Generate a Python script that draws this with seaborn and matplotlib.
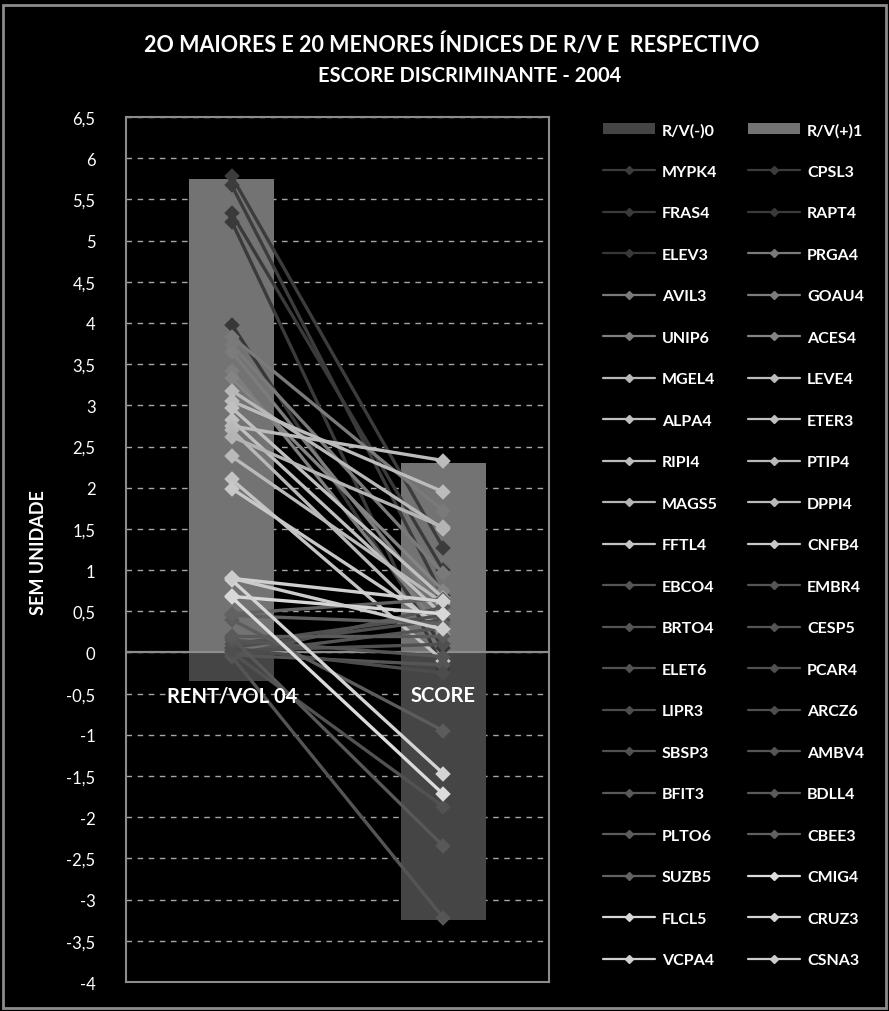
import matplotlib
matplotlib.use("Agg")
import matplotlib.pyplot as plt
from matplotlib.lines import Line2D
from matplotlib.patches import Patch, Rectangle
import numpy as np
import pandas as pd
import seaborn as sns

# Categories on the x axis
categories = ["RENT/VOL 04", "SCORE"]

# Column series (Excel-style overlapping positive/negative bars)
bar_neg = [-0.35, -3.25]   # R/V(-)0
bar_pos = [5.75, 2.30]     # R/V(+)1

# 20 largest and 20 smallest R/V indices, in series order
tickers = [
    "MYPK4", "CPSL3", "FRAS4", "RAPT4", "ELEV3",
    "PRGA4", "AVIL3", "GOAU4", "UNIP6", "ACES4",
    "MGEL4", "LEVE4", "ALPA4", "ETER3", "RIPI4",
    "PTIP4", "MAGS5", "DPPI4", "FFTL4", "CNFB4",
    "EBCO4", "EMBR4", "BRTO4", "CESP5", "ELET6",
    "PCAR4", "LIPR3", "ARCZ6", "SBSP3", "AMBV4",
    "BFIT3", "BDLL4", "PLTO6", "CBEE3", "SUZB5",
    "CMIG4", "FLCL5", "CRUZ3", "VCPA4", "CSNA3",
]
rent_vol = [
    5.78, 5.67, 5.33, 5.23, 3.98,
    3.83, 3.73, 3.65, 3.42, 3.33,
    3.18, 3.05, 2.97, 2.82, 2.75,
    2.70, 2.62, 2.38, 2.10, 1.99,
    -0.05, -0.04, -0.03, -0.02, 0.00,
    0.02, 0.05, 0.06, 0.10, 0.15,
    0.18, 0.20, 0.40, 0.45, 0.47,
    0.67, 0.68, 0.88, 0.90, 0.90,
]
score = [
    1.27, 0.68, 1.00, -0.20, 0.05,
    1.72, 0.96, 0.50, 0.25, 0.75,
    1.50, 1.95, 0.66, 0.45, 2.33,
    0.21, 1.52, 0.60, -0.10, 0.30,
    -3.22, 0.55, -0.15, 0.30, -1.87,
    0.10, -0.25, 0.40, 0.45, -0.05,
    -2.35, 0.20, -0.95, 0.35, 0.65,
    -1.72, 0.47, -1.47, 0.62, 0.28,
]
line_colors = [
    "#3c3c3c", "#3c3c3c", "#3a3a3a", "#3a3a3a", "#383838",
    "#7a7a7a", "#7a7a7a", "#7c7c7c", "#7e7e7e", "#848484",
    "#b8b8b8", "#bcbcbc", "#c0c0c0", "#c0c0c0", "#bcbcbc",
    "#b8b8b8", "#b4b4b4", "#bababa", "#c4c4c4", "#c8c8c8",
    "#555555", "#555555", "#555555", "#555555", "#525252",
    "#505050", "#4c4c4c", "#4e4e4e", "#505050", "#555555",
    "#585858", "#5a5a5a", "#5c5c5c", "#606060", "#626262",
    "#dcdcdc", "#d8d8d8", "#d4d4d4", "#d0d0d0", "#cccccc",
]

title_lines = ["2O MAIORES E 20 MENORES ÍNDICES DE R/V E  RESPECTIVO",
               "ESCORE DISCRIMINANTE - 2004"]
y_label = "SEM UNIDADE"
y_ticks = [-4, -3.5, -3, -2.5, -2, -1.5, -1, -0.5, 0, 0.5, 1, 1.5,
           2, 2.5, 3, 3.5, 4, 4.5, 5, 5.5, 6, 6.5]

sns.set_theme(style="dark")
plt.rcParams["font.family"] = ["Lato", "DejaVu Sans"]

W, H = 889, 1012
fig = plt.figure(figsize=(W / 100, H / 100), dpi=100, facecolor="black")
fig.patches.append(Rectangle((3 / W, 3 / H), 883 / W, 1003 / H, transform=fig.transFigure,
                             fill=False, edgecolor="#8c8c8c", lw=2))

ax_l, ax_r, ax_t, ax_b = 126, 549, 118, 983
ax = fig.add_axes([ax_l / W, 1 - ax_b / H, (ax_r - ax_l) / W, (ax_b - ax_t) / H])
ax.set_facecolor("black")

bars = pd.DataFrame({"cat": categories, "neg": bar_neg, "pos": bar_pos})
sns.barplot(data=bars, x="cat", y="pos", color="#737373", width=0.4, saturation=1,
            errorbar=None, ax=ax, zorder=1, edgecolor="none", linewidth=0)
sns.barplot(data=bars, x="cat", y="neg", color="#454545", width=0.4, saturation=1,
            errorbar=None, ax=ax, zorder=1, edgecolor="none", linewidth=0)

ax.axhline(0, color="#8c8c8c", lw=1.6, zorder=2)

long = pd.DataFrame({
    "ticker": np.repeat(tickers, 2),
    "cat": categories * len(tickers),
    "value": np.column_stack([rent_vol, score]).ravel(),
})
sns.pointplot(data=long, x="cat", y="value", hue="ticker", hue_order=tickers,
              order=categories, palette=line_colors, markers="D", linestyles="-",
              errorbar=None, dodge=False, legend=False, ax=ax,
              markersize=6.5, linewidth=2.4, zorder=3)

ax.set_xlim(-0.5, 1.5)
ax.set_ylim(-4, 6.5)
ax.set_yticks(y_ticks)
ax.set_yticklabels([f"{v:g}".replace(".", ",") for v in y_ticks],
                   color="white", fontsize=12)
ax.tick_params(axis="y", length=0, pad=22)
ax.tick_params(axis="x", length=0, labelbottom=False)
ax.set_xlabel("")
ax.set_ylabel("")
ax.set_axisbelow(True)
ax.yaxis.grid(True, color="#a6a6a6", lw=1, linestyle=(0, (4, 4)))
ax.xaxis.grid(False)
for s in ax.spines.values():
    s.set_visible(True)
    s.set_color("#8c8c8c")
    s.set_linewidth(1.5)

for i, cat in enumerate(categories):
    ax.text(i, -0.52, cat, ha="center", va="center", color="white",
            fontsize=14.5, fontweight="bold", zorder=5)

fig.text(38 / W, 1 - 553 / H, y_label, rotation=90, ha="center", va="center",
         color="white", fontsize=13, fontweight="bold")
fig.text(452 / W, 1 - 45 / H, title_lines[0], ha="center", va="center",
         color="white", fontsize=15.5, fontweight="bold")
fig.text(470 / W, 1 - 76 / H, title_lines[1], ha="center", va="center",
         color="white", fontsize=14.5, fontweight="bold")

# Legend: two columns, read row by row
handles = [Patch(facecolor="#454545", edgecolor="none"),
           Patch(facecolor="#737373", edgecolor="none")]
labels = ["R/V(-)0", "R/V(+)1"]
for t, c in zip(tickers, line_colors):
    handles.append(Line2D([], [], color=c, lw=1.6, marker="D", markersize=4.5))
    labels.append(t)

for col, x0 in enumerate([603, 748]):
    leg = fig.legend(handles[col::2], labels[col::2], loc="upper left",
                     bbox_to_anchor=(x0 / W, 1 - 124 / H), bbox_transform=fig.transFigure,
                     frameon=False, fontsize=11.5, handlelength=3.25, handletextpad=0.44,
                     labelspacing=1.71, borderpad=0, borderaxespad=0)
    for txt in leg.get_texts():
        txt.set_color("white")
        txt.set_fontweight("bold")

fig.savefig("out.png", dpi=100, facecolor="black")
